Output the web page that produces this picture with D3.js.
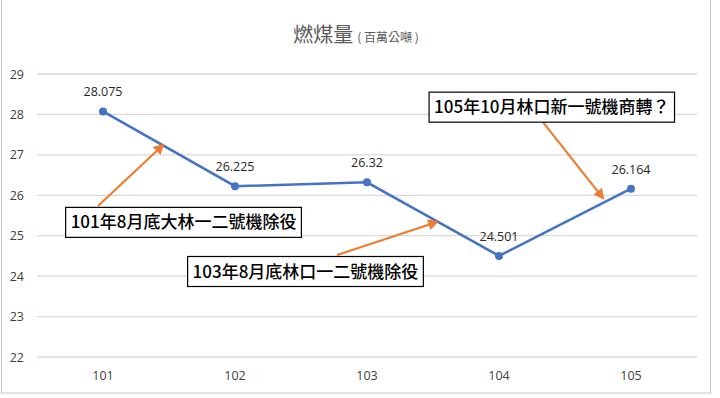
<!DOCTYPE html>
<html>
<head>
<meta charset="utf-8">
<script src="https://cdn.jsdelivr.net/npm/d3@7"></script>
<style>
  body { margin: 0; background: #fff; }
  svg { display: block; font-family: "Noto Sans CJK TC", "Noto Sans", sans-serif; }
</style>
</head>
<body>
<div id="chart"></div>
<script>
// data
const years = ["101", "102", "103", "104", "105"];
const coal = [28.075, 26.225, 26.32, 24.501, 26.164];
const yTicks = [22, 23, 24, 25, 26, 27, 28, 29];

// annotations, placed in data space (x = category index, y = value)
const noteTexts = ["101年8月底大林一二號機除役", "103年8月底林口一二號機除役", "105年10月林口新一號機商轉？"];
const noteBoxX = [0.61, 1.534, 3.40];
const noteBoxY = [25.33, 24.115, 28.18];
const arrowFrom = [[-0.038, 25.735], [1.773, 24.523], [3.333, 27.81]];
const arrowTo = [[0.455, 27.244], [2.53, 25.34], [3.788, 25.93]];

const width = 720;
const height = 398;
const margin = {top: 74, left: 37, right: 23, bottom: 41};
const labelFont = "'Open Sans', 'Liberation Sans', sans-serif";

let svg = d3.select("#chart")
            .append("svg")
            .attr("width", width)
            .attr("height", height);

// chart frame
svg.append("rect")
    .attr("x", 1.5).attr("y", -2)
    .attr("width", 709).attr("height", 395)
    .attr("fill", "#fff")
    .attr("stroke", "#c8c8c8");

let xScale = d3.scaleBand()
            .domain(years)
            .range([margin.left, width - margin.right]);

let yScale = d3.scaleLinear()
            .domain([22, 29])
            .range([height - margin.bottom, margin.top]);

const xi = function(i) { return margin.left + xScale.step() * (i + 0.5); };

// gridlines
svg.append("g").selectAll("line")
    .data(yTicks)
    .enter()
    .append("line")
    .attr("x1", margin.left)
    .attr("x2", width - margin.right)
    .attr("y1", function(d) {return yScale(d);})
    .attr("y2", function(d) {return yScale(d);})
    .style("stroke", "#d9d9d9")
    .style("stroke-width", 1.3);

// y axis labels
let yAxis = svg.append("g")
    .attr("transform", "translate(" + margin.left + ",0)")
    .call(d3.axisLeft(yScale).tickValues(yTicks).tickFormat(d3.format("d")).tickSize(0).tickPadding(13));
yAxis.select(".domain").remove();
yAxis.selectAll("text")
    .style("font-size", "12.5px")
    .style("fill", "#404040")
    .style("font-family", labelFont);

// x axis labels
let xAxis = svg.append("g")
    .attr("transform", "translate(0," + (height - margin.bottom) + ")")
    .call(d3.axisBottom(xScale).tickSize(0).tickPadding(14));
xAxis.select(".domain").remove();
xAxis.selectAll("text")
    .style("font-size", "12.5px")
    .style("fill", "#404040")
    .style("font-family", labelFont);

// title
let title = svg.append("text")
    .attr("x", width / 2 - 4)
    .attr("y", 42)
    .attr("text-anchor", "middle")
    .style("fill", "#595959");
title.append("tspan").text("燃煤量").style("font-size", "20px");
title.append("tspan").text("( 百萬公噸 )").style("font-size", "12px").attr("dx", 4);

// line
const line = d3.line()
    .x(function(d, i) {return xScale(years[i]) + xScale.bandwidth() / 2;})
    .y(function(d) {return yScale(d);});

svg.append("path")
    .datum(coal)
    .attr("d", line)
    .attr("fill", "none")
    .style("stroke", "#4472C4")
    .style("stroke-width", 2.5);

svg.append("g").selectAll("circle")
    .data(coal)
    .enter()
    .append("circle")
    .attr("cx", function(d, i) {return xScale(years[i]) + xScale.bandwidth() / 2;})
    .attr("cy", function(d) {return yScale(d);})
    .attr("r", 4)
    .attr("fill", "#4472C4");

svg.append("g").selectAll("text")
    .data(coal)
    .enter()
    .append("text")
    .attr("x", function(d, i) {return xScale(years[i]) + xScale.bandwidth() / 2;})
    .attr("y", function(d) {return yScale(d) - 15;})
    .attr("text-anchor", "middle")
    .style("font-size", "12.5px")
    .style("fill", "#262626")
    .style("font-family", labelFont)
    .text(function(d) {return d;});

// arrows
svg.append("defs").append("marker")
    .attr("id", "head")
    .attr("viewBox", "0 0 10 10")
    .attr("refX", 8).attr("refY", 5)
    .attr("markerWidth", 5).attr("markerHeight", 5)
    .attr("orient", "auto")
    .append("path")
    .attr("d", "M0,0 L10,5 L0,10 z")
    .attr("fill", "#ED7D31");

svg.append("g").selectAll("line")
    .data(arrowFrom)
    .enter()
    .append("line")
    .attr("x1", function(d) {return xi(d[0]);})
    .attr("y1", function(d) {return yScale(d[1]);})
    .attr("x2", function(d, i) {return xi(arrowTo[i][0]);})
    .attr("y2", function(d, i) {return yScale(arrowTo[i][1]);})
    .style("stroke", "#ED7D31")
    .style("stroke-width", 2.2)
    .attr("marker-end", "url(#head)");

// annotation boxes
let notes = svg.append("g").selectAll("g")
    .data(noteTexts)
    .enter()
    .append("g")
    .attr("transform", function(d, i) {return "translate(" + xi(noteBoxX[i]) + "," + yScale(noteBoxY[i]) + ")";});

notes.append("text")
    .attr("text-anchor", "middle")
    .attr("dy", "0.36em")
    .style("font-size", "17px")
    .style("font-weight", 500)
    .style("fill", "#000")
    .text(function(d) {return d;});

notes.each(function() {
    const g = d3.select(this);
    const b = g.select("text").node().getBBox();
    g.insert("rect", "text")
        .attr("x", b.x - 5)
        .attr("y", -15)
        .attr("width", b.width + 10)
        .attr("height", 30)
        .attr("fill", "#fff")
        .attr("stroke", "#000")
        .attr("stroke-width", 1.2);
});
</script>
</body>
</html>
